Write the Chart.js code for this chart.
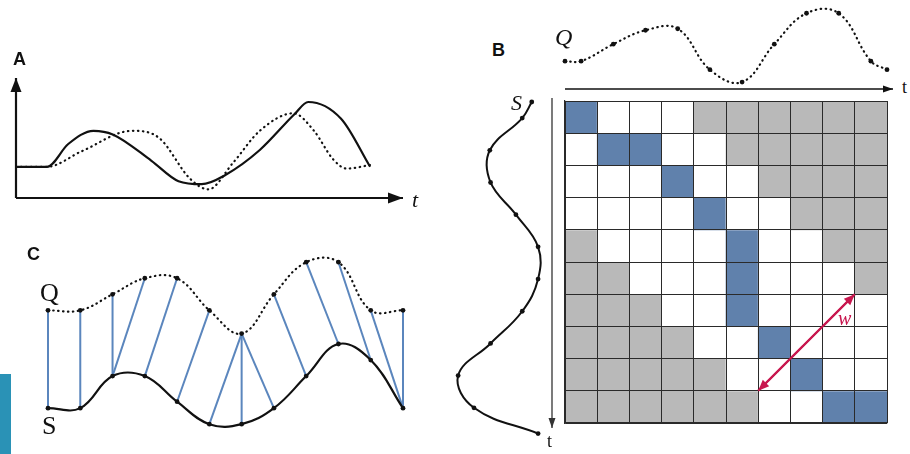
<!DOCTYPE html>
<html>
<head>
<meta charset="utf-8">
<script src="https://cdn.jsdelivr.net/npm/chart.js@4"></script>
<style>
  body { margin: 0; background: #fff; }
  #wrap { position: relative; width: 910px; height: 454px; overflow: hidden; background: #fff; }
  #wrap canvas { position: absolute; }
  .lbl { position: absolute; line-height: 1; white-space: nowrap; color: #111; }
  .panel { font-family: "Liberation Sans", Arial, sans-serif; font-weight: bold; font-size: 18px; }
  .math { font-family: "Liberation Serif", "DejaVu Serif", serif; }
  #tab { position: absolute; left: 0; top: 374px; width: 11px; height: 80px; background: #2a92b6; }
</style>
</head>
<body>
<div id="wrap">
  <canvas id="chartA" width="420" height="150" style="left:0;top:60px"></canvas>
  <canvas id="chartQ" width="345" height="100" style="left:555px;top:0"></canvas>
  <canvas id="chartS" width="110" height="354" style="left:440px;top:90px"></canvas>
  <canvas id="chartGrid" width="345" height="336" style="left:548px;top:96px"></canvas>
  <canvas id="chartC" width="395" height="203" style="left:28px;top:239px"></canvas>

  <div class="lbl panel" style="left:13px;top:50px">A</div>
  <div class="lbl panel" style="left:492px;top:41px">B</div>
  <div class="lbl panel" style="left:27px;top:245px">C</div>
  <div class="lbl math" style="left:412px;top:189px;font-size:22px;font-style:italic">t</div>
  <div class="lbl math" style="left:555px;top:25px;font-size:24px;font-style:italic">Q</div>
  <div class="lbl math" style="left:511px;top:92px;font-size:22px;font-style:italic">S</div>
  <div class="lbl math" style="left:902px;top:78px;font-size:18px">t</div>
  <div class="lbl math" style="left:547px;top:432px;font-size:18px">t</div>
  <div class="lbl math" style="left:838px;top:308px;font-size:20px;font-style:italic;color:#c8174f">w</div>
  <div class="lbl math" style="left:40px;top:280px;font-size:26px">Q</div>
  <div class="lbl math" style="left:42px;top:413px;font-size:26px">S</div>
  <div id="tab"></div>
</div>

<script>
// ---- panel A: two signals over time ----
const aSolidT = [0, 0.8, 1.35, 2.0, 2.5, 3.5, 4.2, 4.8, 5.4, 6.3, 7.2, 7.55, 8.4, 9.15];
const aSolidY = [2.6, 2.6, 4.5, 5.6, 5.3, 3.1, 1.4, 1.15, 1.9, 4.0, 7.0, 8.0, 6.6, 2.6];
const aDottedT = [0, 0.8, 1.7, 3.0, 3.7, 4.5, 4.97, 5.6, 6.3, 7.17, 7.7, 8.2, 8.55, 9.15];
const aDottedY = [2.6, 2.6, 3.9, 5.6, 5.0, 1.6, 0.72, 2.9, 5.6, 7.06, 5.6, 3.2, 2.45, 2.75];

// ---- panel B: cost matrix with warping path ----
const bQT = [0, 0.5, 1.5, 2.5, 3.5, 4.5, 5.5, 6.5, 7.5, 8.5, 9.5, 10];
const bQ = [1.8, 1.8, 2.9, 3.8, 3.9, 1.25, 0.45, 2.9, 4.9, 4.9, 1.8, 1.25];
const bST = [0, 0.5, 1.5, 2.5, 3.5, 4.5, 5.5, 6.5, 7.5, 8.5, 9.5, 10.3];
const bS = [0.4, 1.0, 3.05, 3.0, 1.4, 0, 0, 1.0, 3.0, 5.05, 4.05, 0];
const gridCols = ["1", "2", "3", "4", "5", "6", "7", "8", "9", "10"];
// B = path cell, W = inside window, G = outside window
const gridRows = [
  "BWWWGGGGGG",
  "WBBWWGGGGG",
  "WWWBWWGGGG",
  "WWWWBWWGGG",
  "GWWWWBWWGG",
  "GGWWWBWWWG",
  "GGGWWBWWWW",
  "GGGGWWBWWW",
  "GGGGGWWBWW",
  "GGGGGGWWBB",
];
const windowX = [6, 9];
const windowY = [9, 6];

// ---- panel C: matched points ----
const cQ = [6.1, 6.1, 7.1, 8.1, 8.1, 6.1, 4.65, 7.1, 9.1, 9.1, 6.1, 6.1];
const cS = [0, 0, 2, 2, 0.4, -1, -1, 0, 2, 4, 3, 0];
const cLinks = [[0, 0], [1, 1], [2, 2], [3, 2], [4, 3], [5, 4], [6, 5], [6, 6], [6, 7], [7, 8], [8, 9], [9, 10], [10, 11], [11, 11]];

const cellColors = { B: "#6081ac", W: "#ffffff", G: "#b9b9b9" };
const ink = "#111111";
const linkBlue = "#5b86bd";
const red = "#c8174f";

Chart.defaults.animation = false;
Chart.defaults.devicePixelRatio = 1;

const zip = (xs, ys) => xs.map((x, i) => ({ x: x, y: ys[i] }));

const arrowHead = (ctx, x1, y1, x2, y2, len, half) => {
  const a = Math.atan2(y2 - y1, x2 - x1);
  const c = Math.cos(a), s = Math.sin(a);
  ctx.beginPath();
  ctx.moveTo(x2, y2);
  ctx.lineTo(x2 - len * c + half * s, y2 - len * s - half * c);
  ctx.lineTo(x2 - len * c - half * s, y2 - len * s + half * c);
  ctx.closePath();
  ctx.fill();
};

const arrow = (ctx, x1, y1, x2, y2, width, len, half, color) => {
  ctx.save();
  ctx.strokeStyle = color;
  ctx.fillStyle = color;
  ctx.lineWidth = width;
  ctx.beginPath();
  ctx.moveTo(x1, y1);
  ctx.lineTo(x2, y2);
  ctx.stroke();
  arrowHead(ctx, x1, y1, x2, y2, len, half);
  ctx.restore();
};

const hidden = (min, max, reverse) => ({
  type: "linear", display: false, offset: false, min: min, max: max, reverse: !!reverse,
});

const baseOptions = (padding, scales) => ({
  responsive: false,
  layout: { padding: padding },
  plugins: { legend: { display: false }, tooltip: { enabled: false } },
  scales: scales,
});

const dotted = { borderDash: [0.5, 4.5], borderCapStyle: "round", borderWidth: 2.2 };

// Panel A
new Chart(document.getElementById("chartA"), {
  type: "scatter",
  data: {
    datasets: [
      { data: zip(aSolidT, aSolidY), showLine: true, borderColor: ink, borderWidth: 2.2,
        pointRadius: 0, cubicInterpolationMode: "monotone", clip: false },
      Object.assign({ data: zip(aDottedT, aDottedY), showLine: true, borderColor: ink,
        pointRadius: 0, cubicInterpolationMode: "monotone", clip: false }, dotted),
    ],
  },
  options: baseOptions({ left: 16, right: 17, top: 18, bottom: 12 },
    { x: hidden(0, 10), y: hidden(0, 10) }),
  plugins: [{
    id: "axesA",
    beforeDatasetsDraw(chart) {
      const { ctx, chartArea: a } = chart;
      arrow(ctx, a.left, a.bottom, a.right, a.bottom, 2.2, 15, 5.5, ink);
      arrow(ctx, a.left, a.bottom, a.left, a.top, 2.2, 14, 5.5, ink);
    },
  }],
});

// Panel B: Q on top
new Chart(document.getElementById("chartQ"), {
  type: "scatter",
  data: {
    datasets: [
      Object.assign({ data: zip(bQT, bQ), showLine: true, borderColor: ink, tension: 0.4,
        capBezierPoints: false, pointRadius: 2.4, pointBackgroundColor: ink,
        pointBorderWidth: 0, clip: false }, dotted),
    ],
  },
  options: baseOptions({ left: 10, right: 13, top: 1, bottom: 11 },
    { x: hidden(0, 10), y: hidden(0, 5.5) }),
  plugins: [{
    id: "axisQ",
    beforeDatasetsDraw(chart) {
      const { ctx, chartArea: a } = chart;
      arrow(ctx, a.left, a.bottom, a.right + 6, a.bottom, 1.3, 10, 3.5, ink);
    },
  }],
});

// Panel B: S on the left, running downward
new Chart(document.getElementById("chartS"), {
  type: "scatter",
  data: {
    datasets: [
      { data: zip(bS, bST), showLine: true, borderColor: ink, borderWidth: 2, tension: 0.4,
        capBezierPoints: false, pointRadius: 2.4, pointBackgroundColor: ink,
        pointBorderWidth: 0, clip: false },
    ],
  },
  options: baseOptions({ left: 11, right: 3, top: 12, bottom: 4 },
    { x: hidden(-0.5, 5.5, true), y: hidden(0, 10.5, true) }),
});

// Panel B: the cost matrix
const gridLine = { color: "#2a2a2a", lineWidth: 1, drawTicks: false, z: 1 };
const gridBorder = { color: "#2a2a2a", width: 1.2, z: 1 };
const gridDatasets = gridRows.map((row, r) => ({
  type: "bar",
  label: "row " + (r + 1),
  data: gridCols.map(() => 1),
  backgroundColor: row.split("").map((c) => cellColors[c]),
  borderWidth: 0,
  barPercentage: 1,
  categoryPercentage: 1,
  grouped: false,
}));
const windowDataset = {
  type: "line",
  label: "w",
  data: zip(windowX, windowY),
  xAxisID: "xw",
  yAxisID: "yw",
  borderColor: red,
  borderWidth: 2,
  pointRadius: 0,
  order: -1,
};

new Chart(document.getElementById("chartGrid"), {
  type: "bar",
  data: { labels: gridCols, datasets: gridDatasets.concat([windowDataset]) },
  options: baseOptions({ left: 17, right: 6, top: 5, bottom: 9 }, {
    x: { stacked: true, offset: true, ticks: { display: false },
      grid: Object.assign({ offset: true }, gridLine), border: gridBorder },
    y: { stacked: true, reverse: true, min: 0, max: 10,
      ticks: { display: false, stepSize: 1 }, grid: gridLine, border: gridBorder },
    xw: hidden(0, 10),
    yw: hidden(0, 10, true),
  }),
  plugins: [{
    id: "matrixArrows",
    beforeDatasetsDraw(chart) {
      const { ctx, chartArea: a } = chart;
      arrow(ctx, a.left - 13, a.top - 3, a.left - 13, a.bottom + 5, 1.3, 10, 3.5, "#333");
    },
    afterDraw(chart) {
      // window arrow sits above the grid lines
      const meta = chart.getDatasetMeta(gridRows.length);
      const p0 = meta.data[0], p1 = meta.data[1];
      const { ctx } = chart;
      arrow(ctx, p0.x, p0.y, p1.x, p1.y, 2, 11, 4.5, red);
      ctx.save();
      ctx.fillStyle = red;
      arrowHead(ctx, p1.x, p1.y, p0.x, p0.y, 11, 4.5);
      ctx.restore();
    },
  }],
});

// Panel C
const linkDatasets = cLinks.map(([qi, si]) => ({
  data: [{ x: qi, y: cQ[qi] }, { x: si, y: cS[si] }],
  showLine: true,
  borderColor: linkBlue,
  borderWidth: 2,
  pointRadius: 0,
  clip: false,
}));
const cIdx = cQ.map((v, i) => i);

new Chart(document.getElementById("chartC"), {
  type: "scatter",
  data: {
    datasets: [
      Object.assign({ data: zip(cIdx, cQ), showLine: true, borderColor: ink, tension: 0.4,
        capBezierPoints: false, pointRadius: 2.4, pointBackgroundColor: ink,
        pointBorderWidth: 0, clip: false }, dotted),
      { data: zip(cIdx, cS), showLine: true, borderColor: ink, borderWidth: 2.2, tension: 0.4,
        capBezierPoints: false, pointRadius: 2.4, pointBackgroundColor: ink,
        pointBorderWidth: 0, clip: false },
    ].concat(linkDatasets),
  },
  options: baseOptions({ left: 20, right: 20, top: 12, bottom: 5 },
    { x: hidden(0, 11), y: hidden(-1.8, 9.8) }),
});
</script>
</body>
</html>
